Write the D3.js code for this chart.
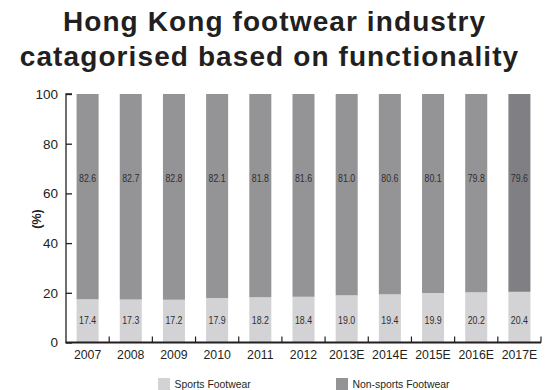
<!DOCTYPE html>
<html>
<head>
<meta charset="utf-8">
<script src="https://cdn.jsdelivr.net/npm/d3@7"></script>
<style>
  html, body { margin: 0; padding: 0; background: #fff; }
  svg { display: block; }
</style>
</head>
<body>
<svg id="chart" width="546" height="390"></svg>
<script>
// Shares of Hong Kong footwear output by functionality (%)
const years = ["2007", "2008", "2009", "2010", "2011", "2012", "2013E", "2014E", "2015E", "2016E", "2017E"];
const sports = [17.4, 17.3, 17.2, 17.9, 18.2, 18.4, 19.0, 19.4, 19.9, 20.2, 20.4];
const nonSports = [82.6, 82.7, 82.8, 82.1, 81.8, 81.6, 81.0, 80.6, 80.1, 79.8, 79.6];
const yTicks = [0, 20, 40, 60, 80, 100];
const seriesNames = ["Sports Footwear", "Non-sports Footwear"];

const svg = d3.select("#chart");
const plotLeft = 66, plotRight = 541, plotTop = 94, plotBottom = 342.5;

const x = d3.scaleBand().domain(years).range([plotLeft, plotRight]).paddingInner(0.49).paddingOuter(0.245);
const y = d3.scaleLinear().domain([0, 100]).range([plotBottom, plotTop]);

const colSports = "#d3d3d5";
const colNon = "#949497";
const colNonLast = "#808084";
const ink = "#231f20";
const sans = "Liberation Sans, Arial, sans-serif";

// Title
const titleLines = [
  { text: "Hong Kong footwear industry", x: 274.5, y: 30.5 },
  { text: "catagorised based on functionality", x: 269.5, y: 65.5 }
];
svg.selectAll("text.title").data(titleLines).join("text")
  .attr("class", "title")
  .attr("x", d => d.x).attr("y", d => d.y)
  .attr("text-anchor", "middle")
  .style("font-family", sans).style("font-weight", "bold")
  .style("font-size", "28px").style("letter-spacing", "1.1px")
  .attr("fill", ink)
  .text(d => d.text);

// Bars
const rows = years.map((yr, i) => ({ yr, s: sports[i], n: nonSports[i], last: i === years.length - 1 }));
const g = svg.append("g");
g.selectAll("rect.s").data(rows).join("rect")
  .attr("x", d => x(d.yr)).attr("width", x.bandwidth())
  .attr("y", d => y(d.s)).attr("height", d => y(0) - y(d.s))
  .attr("fill", colSports);
g.selectAll("rect.n").data(rows).join("rect")
  .attr("x", d => x(d.yr)).attr("width", x.bandwidth())
  .attr("y", d => y(d.s + d.n)).attr("height", d => y(d.s) - y(d.s + d.n))
  .attr("fill", d => d.last ? colNonLast : colNon);

// Value labels (condensed by horizontal scaling)
const cx = d => x(d.yr) + x.bandwidth() / 2;
g.selectAll("text.n").data(rows).join("text")
  .attr("transform", d => `translate(${cx(d)},${y(64.4)}) scale(0.8,1)`)
  .attr("text-anchor", "middle")
  .style("font-family", sans).style("font-size", "11px").attr("fill", "#2e2e30")
  .text(d => d.n.toFixed(1));
g.selectAll("text.s").data(rows).join("text")
  .attr("transform", d => `translate(${cx(d)},${y(7.6)}) scale(0.8,1)`)
  .attr("text-anchor", "middle")
  .style("font-family", sans).style("font-size", "11px").attr("fill", "#2e2e30")
  .text(d => d.s.toFixed(1));

// Y axis, ticks pointing into the plot
const yAxis = svg.append("g").attr("transform", `translate(${plotLeft},0)`)
  .call(d3.axisRight(y).tickValues(yTicks).tickSize(6).tickPadding(0));
yAxis.selectAll("path, line").attr("stroke", ink).attr("stroke-width", 1.3);
yAxis.select(".domain").attr("d", `M6,${plotTop}H0V${plotBottom}`);
yAxis.selectAll("text")
  .attr("x", -8).attr("text-anchor", "end")
  .style("font-family", sans).style("font-size", "13.5px").attr("fill", ink);

// X axis with boundary ticks pointing up
const xg = svg.append("g").attr("transform", `translate(0,${plotBottom})`);
xg.append("line").attr("x1", plotLeft - 0.6).attr("x2", plotRight).attr("y1", 0).attr("y2", 0)
  .attr("stroke", ink).attr("stroke-width", 1.8);
const step = x.step();
const boundaries = years.map((yr, i) => plotLeft + step * (i + 1));
xg.selectAll("line.b").data(boundaries).join("line")
  .attr("x1", d => d).attr("x2", d => d).attr("y1", 0).attr("y2", -6)
  .attr("stroke", ink).attr("stroke-width", 1.2);
const xAxis = xg.append("g").call(d3.axisBottom(x).tickSize(0).tickPadding(8));
xAxis.select(".domain").remove();
xAxis.selectAll("text")
  .style("font-family", sans).style("font-size", "12.3px").attr("fill", ink);

// Y axis title
svg.append("text")
  .attr("transform", `translate(41,219) rotate(-90)`)
  .attr("text-anchor", "middle")
  .style("font-family", sans)
  .style("font-weight", "bold").style("font-size", "12.5px").attr("fill", ink)
  .text("(%)");

// Legend
const legend = [
  { name: seriesNames[0], color: colSports, x: 158 },
  { name: seriesNames[1], color: colNon, x: 336 }
];
const lg = svg.selectAll("g.legend").data(legend).join("g")
  .attr("transform", d => `translate(${d.x},378)`);
lg.append("rect").attr("width", 12).attr("height", 12).attr("fill", d => d.color);
lg.append("text").attr("x", 16.5).attr("y", 9.5)
  .style("font-family", sans).style("font-size", "10.4px").attr("fill", ink)
  .text(d => d.name);
</script>
</body>
</html>
